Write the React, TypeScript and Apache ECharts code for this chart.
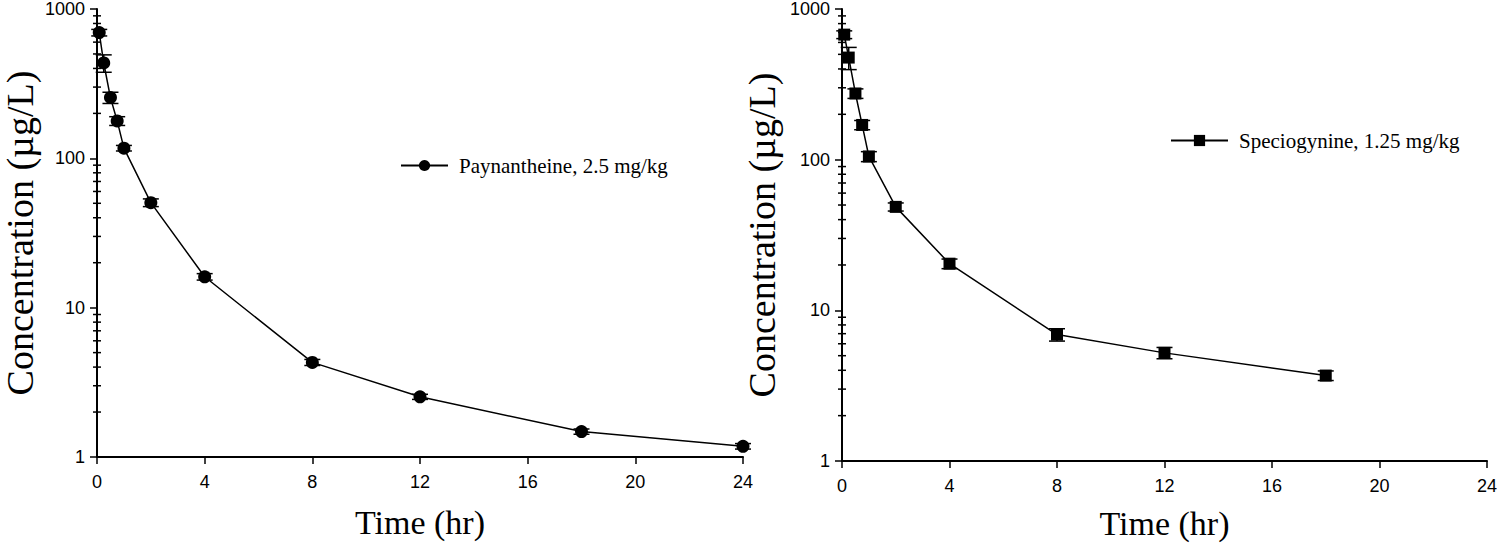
import React, { useEffect, useRef } from "react";
import * as echarts from "echarts";

const timesPay = [0.083, 0.25, 0.5, 0.75, 1, 2, 4, 8, 12, 18, 24];
const meanPay = [695, 435, 255, 178, 117, 50.5, 16.1, 4.3, 2.53, 1.48, 1.18];
const sdPay = [35, 58, 22, 12, 5, 3, 0.8, 0.2, 0.1, 0.06, 0.05];

const timesSpec = [0.083, 0.25, 0.5, 0.75, 1, 2, 4, 8, 12, 18];
const meanSpec = [676, 476, 275, 170, 105, 48.6, 20.4, 6.9, 5.22, 3.69];
const sdSpec = [40, 80, 20, 12, 8, 3, 1.5, 0.65, 0.45, 0.27];

const xTicks = [0, 4, 8, 12, 16, 20, 24];
const decades = [1, 10, 100];
const minorMultipliers = [2, 3, 4, 5, 6, 7, 8, 9];

const namePay = "Paynantheine, 2.5 mg/kg";
const nameSpec = "Speciogynine, 1.25 mg/kg";

const serif = "Liberation Serif";
const sans = "Liberation Sans";

export default function App() {
  const ref = useRef<HTMLDivElement>(null);
  useEffect(() => {
    if (!ref.current) return;
    const chart = echarts.init(ref.current, undefined, { renderer: "svg" });

    const minorVals: number[][] = [];
    decades.forEach((d) => minorMultipliers.forEach((m) => minorVals.push([0, d * m])));

    const errData = (t: number[], m: number[], s: number[]) =>
      t.map((x, i) => [x, m[i] - s[i], m[i] + s[i]]);

    const errRender = (cap: number) => (params: any, api: any) => {
      const x = api.value(0);
      const lo = api.coord([x, api.value(1)]);
      const hi = api.coord([x, api.value(2)]);
      const st = { stroke: "#000", lineWidth: 1.5 };
      return {
        type: "group",
        children: [
          { type: "line", shape: { x1: hi[0], y1: hi[1], x2: lo[0], y2: lo[1] }, style: st },
          { type: "line", shape: { x1: hi[0] - cap, y1: hi[1], x2: hi[0] + cap, y2: hi[1] }, style: st },
          { type: "line", shape: { x1: lo[0] - cap, y1: lo[1], x2: lo[0] + cap, y2: lo[1] }, style: st },
        ],
      };
    };

    const minorRender = (params: any, api: any) => {
      const p = api.coord([api.value(0), api.value(1)]);
      return {
        type: "line",
        shape: { x1: p[0] - 4, y1: p[1], x2: p[0] + 4, y2: p[1] },
        style: { stroke: "#000", lineWidth: 1.5 },
      };
    };

    const xAxisBase = (gridIndex: number, gap: number) => ({
      gridIndex,
      type: "value",
      min: xTicks[0],
      max: xTicks[xTicks.length - 1],
      interval: 4,
      name: "Time (hr)",
      nameLocation: "middle",
      nameGap: gap,
      nameTextStyle: { fontFamily: serif, fontSize: 34, color: "#000" },
      axisLine: { lineStyle: { color: "#000", width: 2 } },
      axisTick: { length: 7, lineStyle: { color: "#000", width: 1.5 } },
      axisLabel: { fontFamily: sans, fontSize: 18, color: "#000", margin: 16 },
      splitLine: { show: false },
    });

    const yAxisBase = (gridIndex: number, gap: number) => ({
      gridIndex,
      type: "log",
      logBase: 10,
      min: 1,
      max: 1000,
      name: "Concentration (µg/L)",
      nameLocation: "middle",
      nameGap: gap,
      nameTextStyle: { fontFamily: serif, fontSize: 38, color: "#000" },
      axisLine: { onZero: false, lineStyle: { color: "#000", width: 2 } },
      axisTick: { length: 7, lineStyle: { color: "#000", width: 1.5 } },
      axisLabel: {
        fontFamily: sans,
        fontSize: 18,
        color: "#000",
        margin: 12,
        formatter: (v: number) => String(Math.round(v)),
      },
      splitLine: { show: false },
    });

    const lineSeries = (name: string, idx: number, t: number[], m: number[], symbol: string, size: number) => ({
      name,
      type: "line",
      xAxisIndex: idx,
      yAxisIndex: idx,
      data: t.map((x, i) => [x, m[i]]),
      symbol,
      symbolSize: size,
      showAllSymbol: true,
      itemStyle: { color: "#000" },
      lineStyle: { color: "#000", width: 1.5 },
      z: 5,
    });

    chart.setOption({
      animation: false,
      backgroundColor: "#fff",
      grid: [
        { left: 97, top: 6, width: 646, height: 451 },
        { left: 842, top: 8, width: 647, height: 454 },
      ],
      xAxis: [xAxisBase(0, 48), xAxisBase(1, 45)],
      yAxis: [yAxisBase(0, 58), yAxisBase(1, 61)],
      legend: [
        {
          data: [namePay],
          left: 395,
          top: 150,
          itemWidth: 47,
          itemHeight: 14,
          textStyle: { fontFamily: serif, fontSize: 21, color: "#000", padding: [0, 0, 0, 6] },
        },
        {
          data: [nameSpec],
          left: 1165,
          top: 125,
          itemWidth: 57,
          itemHeight: 14,
          textStyle: { fontFamily: serif, fontSize: 21, color: "#000", padding: [0, 0, 0, 6] },
        },
      ],
      series: [
        {
          type: "custom",
          xAxisIndex: 0,
          yAxisIndex: 0,
          data: minorVals,
          renderItem: minorRender,
          silent: true,
          z: 1,
        },
        {
          type: "custom",
          xAxisIndex: 1,
          yAxisIndex: 1,
          data: minorVals,
          renderItem: minorRender,
          silent: true,
          z: 1,
        },
        {
          type: "custom",
          xAxisIndex: 0,
          yAxisIndex: 0,
          data: errData(timesPay, meanPay, sdPay),
          renderItem: errRender(8),
          encode: { x: 0, y: [1, 2] },
          silent: true,
          z: 3,
        },
        {
          type: "custom",
          xAxisIndex: 1,
          yAxisIndex: 1,
          data: errData(timesSpec, meanSpec, sdSpec),
          renderItem: errRender(8),
          encode: { x: 0, y: [1, 2] },
          silent: true,
          z: 3,
        },
        lineSeries(namePay, 0, timesPay, meanPay, "circle", 13),
        lineSeries(nameSpec, 1, timesSpec, meanSpec, "rect", 12),
      ],
    });

    return () => chart.dispose();
  }, []);

  return (
    <div
      ref={ref}
      style={{ position: "absolute", left: 0, top: 0, width: 1500, height: 545 }}
    />
  );
}
